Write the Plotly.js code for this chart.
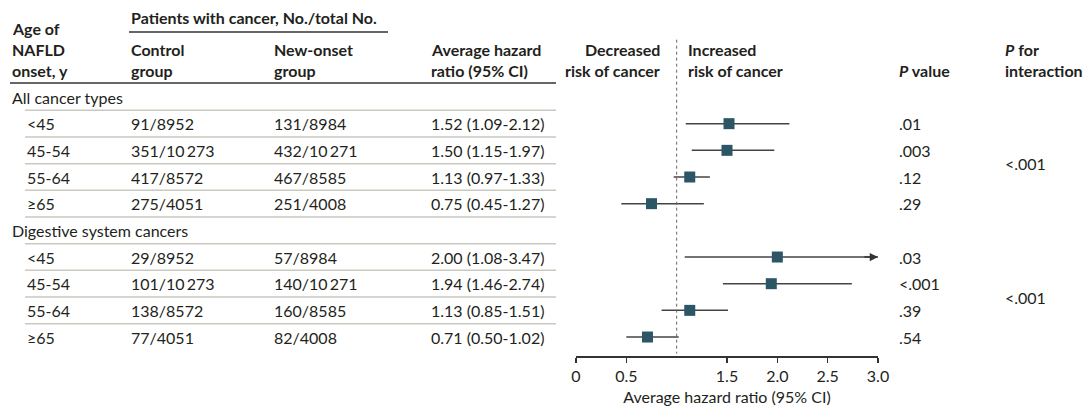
<!DOCTYPE html>
<html>
<head>
<meta charset="utf-8">
<script src="https://cdn.plot.ly/plotly-3.0.1.min.js"></script>
<style>html,body{margin:0;padding:0;background:#fff;}#chart{width:1085px;height:409px;}</style>
</head>
<body>
<div id="chart"></div>
<script>
// ---- data ----
const groups = ['All cancer types', 'Digestive system cancers'];
const ages = ['<45', '45-54', '55-64', '\u226565'];
const controlAll = ['91/8952', '351/10\u2009273', '417/8572', '275/4051'];
const newAll = ['131/8984', '432/10\u2009271', '467/8585', '251/4008'];
const hrAll = [1.52, 1.50, 1.13, 0.75];
const loAll = [1.09, 1.15, 0.97, 0.45];
const hiAll = [2.12, 1.97, 1.33, 1.27];
const pAll = ['.01', '.003', '.12', '.29'];
const pIntAll = '<.001';
const controlDig = ['29/8952', '101/10\u2009273', '138/8572', '77/4051'];
const newDig = ['57/8984', '140/10\u2009271', '160/8585', '82/4008'];
const hrDig = [2.00, 1.94, 1.13, 0.71];
const loDig = [1.08, 1.46, 0.85, 0.50];
const hiDig = [3.47, 2.74, 1.51, 1.02];
const pDig = ['.03', '<.001', '.39', '.54'];
const pIntDig = '<.001';
const tickVals = [0, 0.5, 1.5, 2.0, 2.5, 3.0];
const tickText = ['0', '0.5', '1.5', '2.0', '2.5', '3.0'];
const xMax = 3.0;

// ---- layout helpers ----
const W = 1085, H = 409;
const FONT = 'Lato, "Open Sans", sans-serif';
const FS = 16;
const TXT = '#231f20';
const px = v => v / W;
const py = v => 1 - v / H;

const blocks = [
  {name: groups[0], ctrl: controlAll, neu: newAll, hr: hrAll, lo: loAll, hi: hiAll, p: pAll, pint: pIntAll},
  {name: groups[1], ctrl: controlDig, neu: newDig, hr: hrDig, lo: loDig, hi: hiDig, p: pDig, pint: pIntDig}
];

const annotations = [];
const shapes = [];
function txt(x, y, text, opts) {
  annotations.push(Object.assign({
    x: x, y: y, xref: 'paper', yref: 'y', text: text, showarrow: false,
    xanchor: 'left', yanchor: 'middle', font: {family: FONT, size: FS, color: TXT}
  }, opts || {}));
}
function htxt(x, yPx, text, opts) {
  txt(px(x), py(yPx), text, Object.assign({yref: 'paper'}, opts || {}));
}

// headers
htxt(129, 18, '<b>Patients with cancer, No./total No.</b>');
htxt(10, 29, '<b>Age of</b>');
htxt(10, 49.5, '<b>NAFLD</b>');
htxt(10, 70, '<b>onset, y</b>');
htxt(129, 49.5, '<b>Control</b>');
htxt(129, 70, '<b>group</b>');
htxt(272, 49.5, '<b>New-onset</b>');
htxt(272, 70, '<b>group</b>');
htxt(429, 49.5, '<b>Average hazard</b>');
htxt(429, 70, '<b>ratio (95% CI)</b>');
htxt(662, 49.5, '<b>Decreased</b>', {xanchor: 'right'});
htxt(662, 70, '<b>risk of cancer</b>', {xanchor: 'right'});
htxt(686, 49.5, '<b>Increased</b>');
htxt(686, 70, '<b>risk of cancer</b>');
htxt(897, 70, '<b><i>P</i> value</b>');
htxt(1003, 49.5, '<b><i>P</i> for</b>');
htxt(1003, 70, '<b>interaction</b>');

// header rules
shapes.push({type: 'line', xref: 'paper', yref: 'paper', x0: px(129), x1: px(388), y0: py(32), y1: py(32), line: {color: '#333', width: 1.5}});
shapes.push({type: 'line', xref: 'paper', yref: 'paper', x0: px(10), x1: px(556), y0: py(83), y1: py(83), line: {color: '#333', width: 1.5}});

// table rows and forest data
const ciX = [], ciY = [], mX = [], mY = [];
let k = 0;
blocks.forEach(b => {
  txt(px(10), k, b.name);
  shapes.push({type: 'line', xref: 'paper', yref: 'y', x0: px(25), x1: px(556), y0: k + 0.5, y1: k + 0.5, line: {color: '#c9c9c0', width: 1.5}});
  const first = k + 1;
  ages.forEach((a, i) => {
    const r = k + 1 + i;
    txt(px(25), r, a);
    txt(px(129), r, b.ctrl[i]);
    txt(px(272), r, b.neu[i]);
    txt(px(429), r, b.hr[i].toFixed(2) + ' (' + b.lo[i].toFixed(2) + '-' + b.hi[i].toFixed(2) + ')');
    txt(px(897), r, b.p[i]);
    if (r < 9) {
      shapes.push({type: 'line', xref: 'paper', yref: 'y', x0: px(25), x1: px(556), y0: r + 0.5, y1: r + 0.5, line: {color: '#c9c9c0', width: 1.5}});
    }
    ciX.push(b.lo[i], Math.min(b.hi[i], xMax), null);
    ciY.push(r, r, null);
    mX.push(b.hr[i]); mY.push(r);
    if (b.hi[i] > xMax) {
      annotations.push({x: xMax, y: r, xref: 'x', yref: 'y', ax: xMax - 0.15, ay: r, axref: 'x', ayref: 'y',
        text: '', showarrow: true, arrowhead: 2, arrowsize: 1.1, arrowwidth: 1.5, arrowcolor: '#333', standoff: 0, startstandoff: 0});
    }
  });
  txt(px(1003), first + 1.5, b.pint);
  k += 5;
});

// reference line at HR = 1
shapes.push({type: 'line', xref: 'x', yref: 'y', x0: 1, x1: 1, y0: -2.15, y1: 9.62, line: {color: '#666', width: 1, dash: 'dot'}});

const traces = [
  {x: ciX, y: ciY, mode: 'lines', type: 'scatter', line: {color: '#444', width: 1.5}, hoverinfo: 'skip', showlegend: false, connectgaps: false},
  {x: mX, y: mY, mode: 'markers', type: 'scatter', marker: {symbol: 'square', size: 11, color: '#2c5566', line: {width: 0}}, showlegend: false}
];

const layout = {
  width: W, height: H,
  margin: {l: 0, r: 0, t: 0, b: 0},
  paper_bgcolor: '#fff', plot_bgcolor: 'rgba(0,0,0,0)',
  font: {family: FONT, size: FS, color: TXT},
  showlegend: false,
  xaxis: {
    domain: [px(576), px(878)], range: [0, 3], autorange: false,
    tickvals: tickVals, ticktext: tickText, ticks: 'outside', ticklen: 5, tickwidth: 1.5, tickcolor: '#333',
    showline: true, linecolor: '#333', linewidth: 1.5, showgrid: false, zeroline: false,
    tickfont: {family: FONT, size: FS, color: TXT},
    title: {text: 'Average hazard ratio (95% CI)', font: {family: FONT, size: FS, color: TXT}, standoff: 8},
    automargin: false, fixedrange: true
  },
  yaxis: {
    domain: [(H - 356) / H, 1], range: [(356 - 97) / 26.67, (0 - 97) / 26.67], autorange: false,
    visible: false, showgrid: false, zeroline: false, fixedrange: true
  },
  annotations: annotations,
  shapes: shapes
};

Plotly.newPlot('chart', traces, layout, {displayModeBar: false, staticPlot: true});
</script>
</body>
</html>
